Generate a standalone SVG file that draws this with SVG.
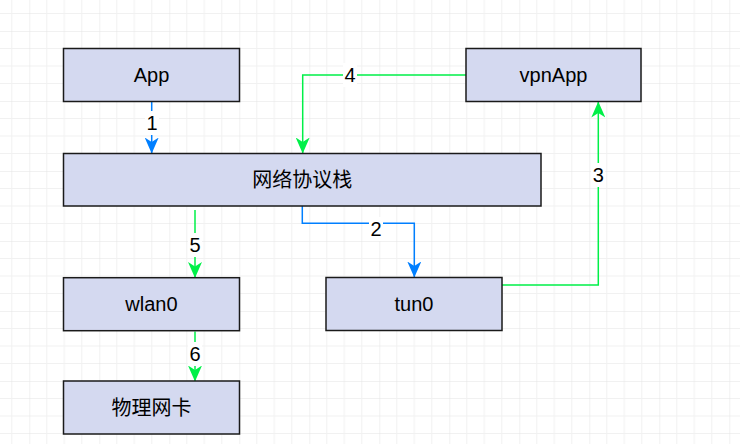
<svg xmlns="http://www.w3.org/2000/svg" width="740" height="444" viewBox="0 0 740 444">
<defs>
<pattern id="grid" x="29.3" y="31" width="70" height="70" patternUnits="userSpaceOnUse">
<path d="M17.5 0V70M35 0V70M52.5 0V70M0 17.5H70M0 35H70M0 52.5H70" stroke="#f1f1f1" stroke-width="1" fill="none"/>
<path d="M0 0V70M0 0H70" stroke="#e3e3e3" stroke-width="1" fill="none"/>
</pattern>
<marker id="ab" viewBox="0 0 16 14" refX="15.5" refY="7" markerWidth="16" markerHeight="14" markerUnits="userSpaceOnUse" orient="auto">
<path d="M0 0L16 7L0 14L4.5 7Z" fill="#007FFF"/>
</marker>
<marker id="ag" viewBox="0 0 16 14" refX="15.5" refY="7" markerWidth="16" markerHeight="14" markerUnits="userSpaceOnUse" orient="auto">
<path d="M0 0L16 7L0 14L4.5 7Z" fill="#00F048"/>
</marker>
</defs>
<style>
.box{fill:#D4D9F0;stroke:#1a1a1a;stroke-width:1.5}
.t{font-family:"Liberation Sans","Noto Sans CJK SC",sans-serif;font-size:20px;fill:#000;text-anchor:middle;dominant-baseline:central}
.b{fill:none;stroke:#007FFF;stroke-width:1.5}
.g{fill:none;stroke:#00F048;stroke-width:1.5}
.lb{fill:#fff}
</style>
<rect width="740" height="444" fill="#fff"/>
<rect width="740" height="444" fill="url(#grid)"/>
<g id="connectors">
<path class="b" d="M151.7 102V153" marker-end="url(#ab)"/>
<path class="b" d="M302.3 206V223.3H414.3V277" marker-end="url(#ab)"/>
<path class="g" d="M502 285H598.3V102" marker-end="url(#ag)"/>
<path class="g" d="M466 75H302.7V153" marker-end="url(#ag)"/>
<path class="g" d="M195 210V277.5" marker-end="url(#ag)"/>
<path class="g" d="M195 331.5V381" marker-end="url(#ag)"/>
<rect class="lb" x="145" y="111" width="14" height="24"/>
<text class="t" x="152" y="123">1</text>
<rect class="lb" x="369" y="217" width="14" height="24"/>
<text class="t" x="376" y="229">2</text>
<rect class="lb" x="591" y="163" width="14" height="24"/>
<text class="t" x="598.3" y="175">3</text>
<rect class="lb" x="343" y="63" width="14" height="24"/>
<text class="t" x="350" y="75">4</text>
<rect class="lb" x="188" y="233" width="14" height="24"/>
<text class="t" x="195" y="245">5</text>
<rect class="lb" x="188" y="342" width="14" height="24"/>
<text class="t" x="195" y="354">6</text>
</g>
<g id="app"><rect class="box" x="63.5" y="48.5" width="176" height="53"/><text class="t" x="151.5" y="75">App</text></g>
<g id="vpnapp"><rect class="box" x="466" y="48.5" width="175" height="53"/><text class="t" x="553.5" y="75">vpnApp</text></g>
<g id="stack"><rect class="box" x="63.5" y="153.5" width="477.5" height="52.5"/><text class="t" x="302.3" y="180">网络协议栈</text></g>
<g id="wlan0"><rect class="box" x="63.5" y="277.7" width="176" height="53"/><text class="t" x="151.5" y="304.2">wlan0</text></g>
<g id="tun0"><rect class="box" x="326" y="277.5" width="176" height="53"/><text class="t" x="414" y="304">tun0</text></g>
<g id="nic"><rect class="box" x="63.5" y="381" width="176" height="53"/><text class="t" x="151.5" y="407.5">物理网卡</text></g>
</svg>
